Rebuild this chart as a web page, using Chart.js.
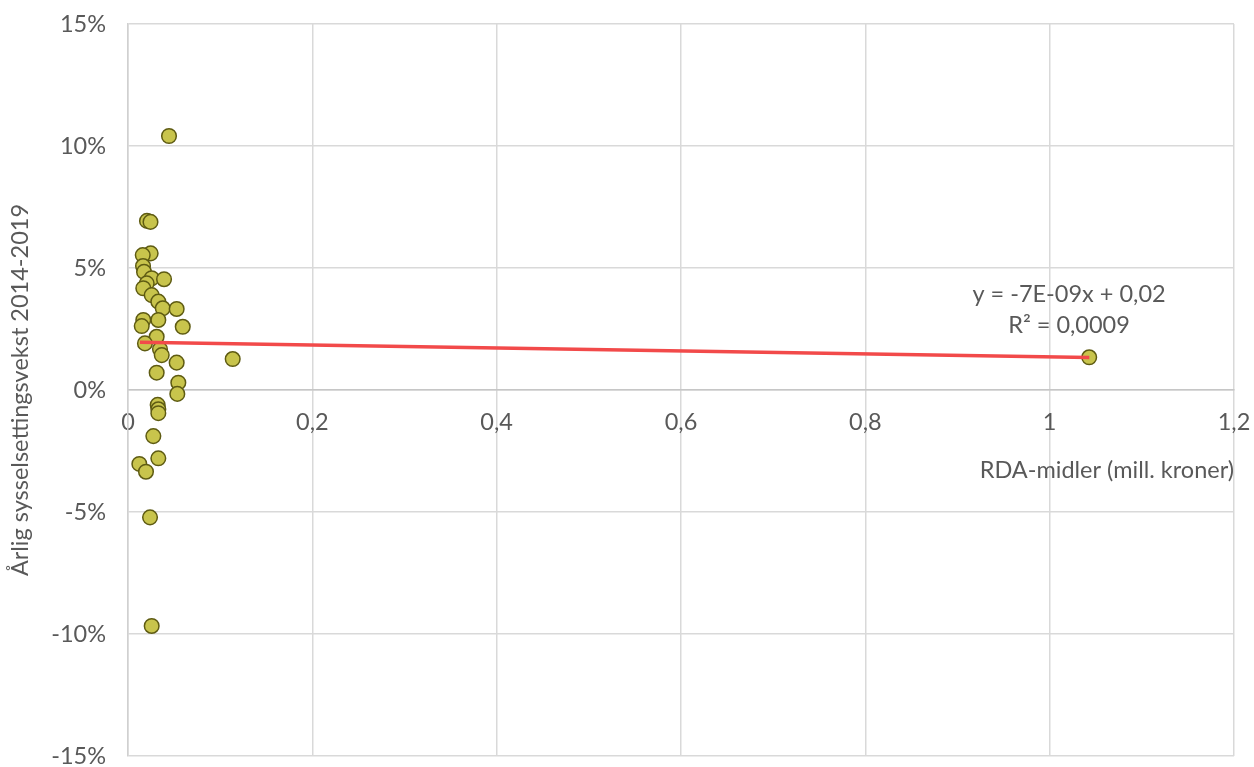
<!DOCTYPE html>
<html>
<head>
<meta charset="utf-8">
<script src="https://cdn.jsdelivr.net/npm/chart.js@4.4.1/dist/chart.umd.min.js"></script>
<style>
  html, body { margin: 0; padding: 0; background: #ffffff; }
  #wrap { width: 1254px; height: 767px; position: relative; }
</style>
</head>
<body>
<div id="wrap"><canvas id="c" width="1254" height="767"></canvas></div>
<script>
// RDA-midler (mill. kroner) per kommune
const rdaMidler = [
  0.0445, 0.0206, 0.0244, 0.0246, 0.0160, 0.0163, 0.0174, 0.0257, 0.0391, 0.0203,
  0.0166, 0.0257, 0.0329, 0.0377, 0.0528, 0.0329, 0.0166, 0.0149, 0.0594, 0.0311,
  0.0184, 0.0347, 0.0366, 0.0528, 0.1136, 0.0311, 0.0546, 0.0535, 0.0322, 0.0329,
  0.0329, 0.0275, 0.0329, 0.0123, 0.0195, 0.0239, 0.0257, 1.0429
];
// Årlig sysselsettingsvekst 2014-2019
const sysselsettingsvekst = [
  0.1041, 0.0693, 0.0689, 0.0560, 0.0553, 0.0508, 0.0484, 0.0458, 0.0454, 0.0437,
  0.0417, 0.0389, 0.0362, 0.0335, 0.0332, 0.0287, 0.0287, 0.0262, 0.0259, 0.0218,
  0.0191, 0.0167, 0.0143, 0.0112, 0.0127, 0.0071, 0.0030, -0.0016, -0.0061, -0.0079,
  -0.0095, -0.0189, -0.0280, -0.0303, -0.0335, -0.0522, -0.0967, 0.0134
];
// Lineær trendlinje (endepunkter)
const trendX = [0.013, 1.043];
const trendY = [0.0196, 0.0133];
const trendLabel = ["y = -7E-09x + 0,02", "R\u00B2 = 0,0009"];
const xTitle = "RDA-midler (mill. kroner)";
const yTitle = "\u00C5rlig sysselsettingsvekst 2014-2019";

const scatterData = rdaMidler.map((x, i) => ({ x: x, y: sysselsettingsvekst[i] }));
const trendData = trendX.map((x, i) => ({ x: x, y: trendY[i] }));

const FONT = "Lato, 'Open Sans', sans-serif";
const TXT = "#595959";
const FS = 23.5;

const trendLabelPlugin = {
  id: 'trendLabel',
  afterDatasetsDraw(chart) {
    const ctx = chart.ctx;
    const xs = chart.scales.x, ys = chart.scales.y;
    const cx = xs.getPixelForValue(1.021);
    ctx.save();
    ctx.fillStyle = TXT;
    ctx.font = FS + "px " + FONT;
    ctx.textAlign = 'center';
    ctx.textBaseline = 'middle';
    ctx.fillText(trendLabel[0], cx, ys.getPixelForValue(0.0393));
    ctx.fillText(trendLabel[1], cx, ys.getPixelForValue(0.0266));
    ctx.restore();
  }
};

function zeroPad(scale) {
  scale.paddingTop = 0; scale.paddingBottom = 0;
  scale.paddingLeft = 0; scale.paddingRight = 0;
}

new Chart(document.getElementById('c'), {
  type: 'scatter',
  data: {
    datasets: [
      {
        type: 'line',
        label: 'Trend',
        data: trendData,
        showLine: true,
        borderColor: '#f24a4a',
        borderWidth: 3.5,
        pointRadius: 0,
        fill: false,
        order: 0
      },
      {
        label: 'Kommuner',
        data: scatterData,
        backgroundColor: '#c8c44c',
        borderColor: '#5e5b12',
        borderWidth: 1.5,
        pointRadius: 7.3,
        order: 1
      }
    ]
  },
  options: {
    responsive: false,
    animation: false,
    devicePixelRatio: 1,
    layout: { padding: { left: 0, right: 20, top: 24, bottom: 11 } },
    plugins: { legend: { display: false }, tooltip: { enabled: false } },
    scales: {
      x: {
        type: 'linear',
        position: { y: 0 },
        min: 0, max: 1.2,
        ticks: {
          stepSize: 0.2,
          padding: 18,
          color: TXT,
          font: { family: FONT, size: FS },
          callback: (v) => String(Math.round(v * 10) / 10).replace('.', ',')
        },
        grid: { color: '#d9d9d9', lineWidth: 1.5, drawTicks: false },
        border: { color: '#c6c6c6', width: 1.5 },
        title: {
          display: true,
          text: xTitle,
          align: 'end',
          color: TXT,
          font: { family: FONT, size: FS },
          padding: { top: 2, bottom: 0 }
        },
        afterFit: zeroPad
      },
      y: {
        type: 'linear',
        position: 'left',
        min: -0.15, max: 0.15,
        ticks: {
          stepSize: 0.05,
          padding: 22,
          color: TXT,
          font: { family: FONT, size: FS },
          callback: (v) => Math.round(v * 100) + '%'
        },
        grid: { color: '#d9d9d9', lineWidth: 1.5, drawTicks: false },
        border: { color: '#d0d0d0', width: 1.5 },
        title: {
          display: true,
          text: yTitle,
          color: TXT,
          font: { family: FONT, size: FS },
          padding: { top: 6, bottom: 0 }
        },
        afterFit: (scale) => { zeroPad(scale); scale.width = 128; }
      }
    }
  },
  plugins: [trendLabelPlugin]
});
</script>
</body>
</html>
